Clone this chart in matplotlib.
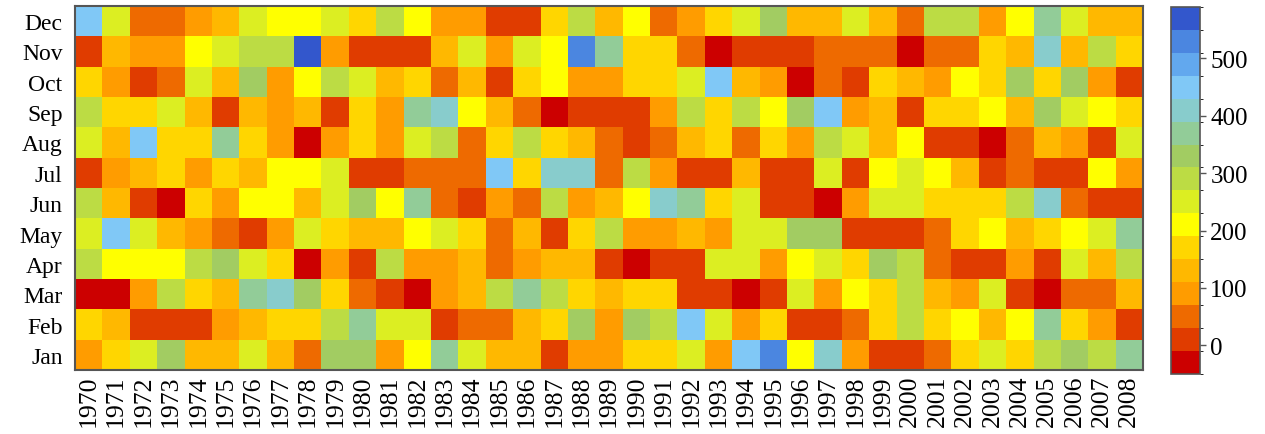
import matplotlib
matplotlib.use("Agg")
import matplotlib.pyplot as plt
import numpy as np
from matplotlib.colors import ListedColormap, BoundaryNorm

years = list(range(1970, 2009))
months = ["Jan", "Feb", "Mar", "Apr", "May", "Jun",
          "Jul", "Aug", "Sep", "Oct", "Nov", "Dec"]

# monthly values, 1970..2008
jan = [90, 170, 250, 330, 130, 130, 250, 130, 50, 330, 330, 90, 210, 370, 250, 130, 130, 10, 90, 90,
       170, 170, 250, 90, 450, 530, 210, 410, 90, 10, 10, 50, 170, 250, 170, 290, 330, 290, 370]
feb = [170, 130, 10, 10, 10, 90, 130, 170, 170, 290, 370, 250, 250, 10, 50, 50, 130, 170, 330, 90,
       330, 290, 450, 250, 90, 170, 10, 10, 50, 170, 290, 170, 210, 130, 210, 370, 170, 90, 10]
mar = [-30, -30, 90, 290, 170, 130, 370, 410, 330, 170, 50, 10, -30, 90, 130, 290, 370, 290, 170, 130,
       170, 170, 10, 10, -30, 10, 250, 90, 210, 170, 290, 130, 90, 250, 10, -30, 50, 50, 130]
apr = [290, 210, 210, 210, 290, 330, 250, 170, -30, 90, 10, 290, 90, 90, 130, 50, 90, 130, 130, 10,
       -30, 10, 10, 250, 250, 90, 210, 250, 170, 330, 290, 50, 10, 10, 90, 10, 250, 130, 290]
may = [250, 450, 250, 130, 90, 50, 10, 90, 250, 170, 130, 130, 210, 250, 170, 50, 130, 10, 170, 290,
       90, 90, 130, 90, 250, 250, 330, 330, 10, 10, 10, 50, 170, 210, 130, 170, 210, 250, 370]
jun = [290, 130, 10, -30, 170, 90, 210, 210, 130, 250, 330, 210, 370, 50, 10, 90, 50, 290, 90, 130,
       210, 410, 370, 170, 250, 10, 10, -30, 90, 250, 250, 170, 170, 170, 290, 410, 50, 10, 10]
jul = [10, 90, 130, 170, 90, 170, 130, 210, 210, 250, 10, 10, 50, 50, 50, 450, 170, 410, 410, 50,
       290, 90, 10, 10, 130, 10, 10, 250, 10, 210, 250, 210, 130, 10, 50, 10, 10, 210, 90]
aug = [250, 130, 450, 170, 170, 370, 170, 90, -30, 90, 170, 90, 250, 290, 50, 170, 290, 170, 130, 50,
       10, 50, 130, 170, 50, 170, 90, 290, 250, 130, 210, 10, 10, -30, 50, 130, 90, 10, 250]
sep = [290, 170, 170, 250, 130, 10, 130, 90, 130, 10, 170, 90, 370, 410, 210, 130, 50, -30, 10, 10,
       10, 90, 290, 170, 290, 210, 330, 450, 90, 130, 10, 170, 170, 210, 130, 330, 250, 210, 170]
oct_ = [170, 90, 10, 50, 250, 130, 330, 90, 210, 290, 250, 130, 170, 50, 130, 10, 170, 210, 90, 90,
        170, 170, 250, 450, 130, 90, -30, 50, 10, 170, 130, 90, 210, 170, 330, 170, 330, 90, 10]
nov = [10, 130, 90, 90, 210, 250, 290, 290, 570, 90, 10, 10, 10, 130, 250, 90, 250, 210, 530, 370,
       170, 170, 50, -30, 10, 10, 10, 50, 50, 50, -30, 50, 50, 170, 130, 410, 130, 290, 170]
dec = [450, 250, 50, 50, 90, 130, 250, 210, 210, 250, 170, 290, 210, 90, 90, 10, 10, 170, 290, 130,
       210, 50, 90, 170, 250, 330, 130, 130, 250, 130, 50, 290, 290, 90, 210, 370, 250, 130, 130]

data = np.array([jan, feb, mar, apr, may, jun, jul, aug, sep, oct_, nov, dec])

colors = ["#cc0000", "#e03c00", "#ee6a00", "#ff9c00", "#ffb800", "#ffd600",
          "#ffff00", "#dcee22", "#bcdc44", "#a2cc62", "#92cc98", "#88cccc",
          "#80c8f6", "#62a8ee", "#4b86e0", "#3357cc"]
levels = np.arange(-50, 591, 40)
cmap = ListedColormap(colors)
norm = BoundaryNorm(levels, cmap.N)

plt.rcParams['font.family'] = ['Liberation Serif', 'DejaVu Serif']

fig = plt.figure(figsize=(12.65, 4.35), dpi=100)
ax = fig.add_axes([0.0593, 0.147, 0.8443, 0.837])
cax = fig.add_axes([0.926, 0.138, 0.0225, 0.844])

xe = np.arange(len(years) + 1)
ye = np.arange(len(months) + 1)
mesh = ax.pcolormesh(xe, ye, data, cmap=cmap, norm=norm)

ax.set_xticks(np.arange(len(years)) + 0.5)
ax.set_xticklabels([str(y) for y in years], rotation=90, fontsize=18.5)
ax.set_yticks(np.arange(len(months)) + 0.5)
ax.set_yticklabels(months, fontsize=17)
ax.tick_params(axis='y', length=0, pad=9)
ax.tick_params(axis='x', length=0, pad=3)
for s in ax.spines.values():
    s.set_color("#555555")
    s.set_linewidth(1.5)

cb = fig.colorbar(mesh, cax=cax, ticks=[0, 100, 200, 300, 400, 500])
cb.ax.tick_params(labelsize=18, length=4, width=1, color="#555555")
cb.outline.set_edgecolor("#555555")
cb.outline.set_linewidth(1.2)

fig.savefig("out.png", dpi=100)
